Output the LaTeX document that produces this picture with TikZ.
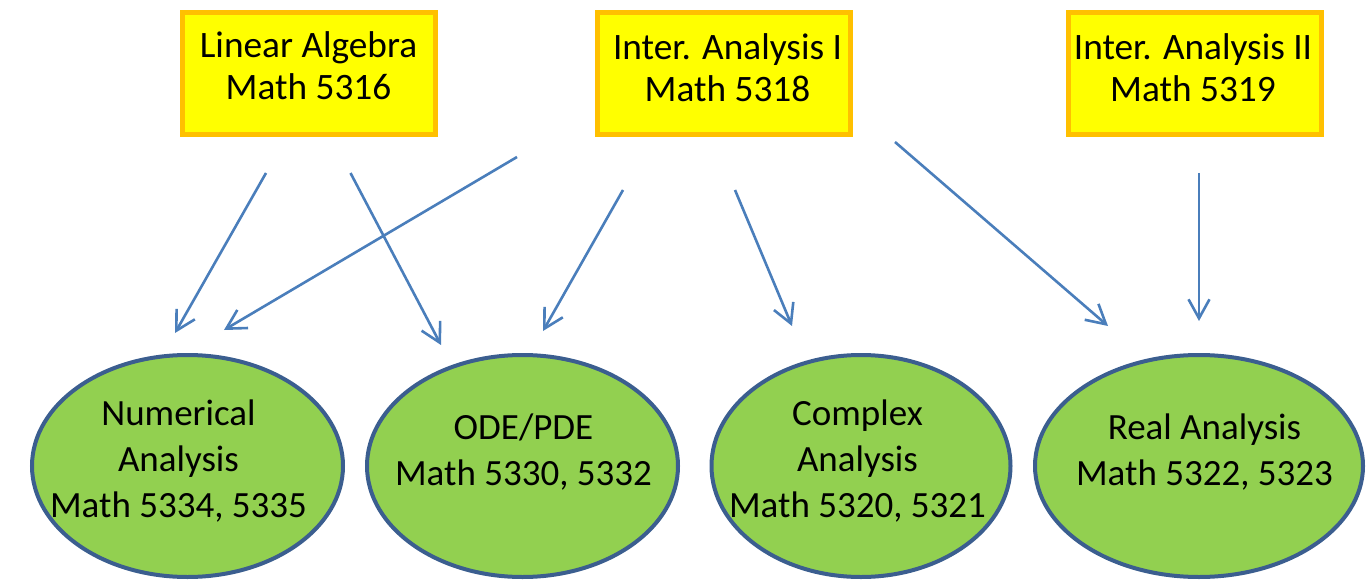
\documentclass[tikz,border=0pt]{standalone}
\usepackage{fontspec}
\setmainfont{Carlito}
\usetikzlibrary{arrows.meta,shapes.geometric}
\definecolor{boxfill}{HTML}{FFFF00}
\definecolor{boxline}{HTML}{FFC000}
\definecolor{ellfill}{HTML}{92D050}
\definecolor{ellline}{HTML}{3B5E8F}
\definecolor{arr}{HTML}{4A7EBB}
\begin{document}
\begin{tikzpicture}[x=1pt,y=-1pt,
  course/.style={draw=boxline, fill=boxfill, line width=5pt, rectangle,
    minimum width=253pt, minimum height=122pt, inner sep=0pt},
  topic/.style={draw=ellline, fill=ellfill, line width=4pt, ellipse, inner sep=0pt},
  lbl/.style={align=center, anchor=base, inner sep=0pt, font=\fontsize{37.3}{42}\selectfont},
  elbl/.style={align=center, anchor=base, inner sep=0pt, font=\fontsize{37}{46}\selectfont},
  prereq/.style={draw=arr, line width=2.6pt, -{Straight Barb[length=19pt,width=21pt]}}]
\useasboundingbox (0,0) rectangle (1370,580);
% prerequisite boxes
\node[course] (la) at (309,73.5) {};
\node[course] (ia1) at (723.5,73.5) {};
\node[course] (ia2) at (1195,73.5) {};
\node[lbl] (lat) at (308.5,100) {Linear Algebra\\Math 5316};
\node[lbl] (ia1t) at (727.5,102) {Inter. Analysis I\\Math 5318};
\node[lbl] (ia2t) at (1193,102) {Inter. Analysis II\\Math 5319};
% course ellipses
\node[topic, minimum width=311pt, minimum height=222pt] (na) at (187.5,466) {};
\node[topic, minimum width=311pt, minimum height=222pt] (ode) at (522.5,466) {};
\node[topic, minimum width=299pt, minimum height=222pt] (ca) at (861,466) {};
\node[topic, minimum width=328pt, minimum height=222pt] (ra) at (1199,466) {};
\node[elbl] (nat) at (178.5,517) {Numerical\\Analysis\\Math 5334, 5335};
\node[elbl] (odet) at (523.5,485) {ODE/PDE\\Math 5330, 5332};
\node[elbl] (cat) at (857.5,517) {Complex\\Analysis\\Math 5320, 5321};
\node[elbl] (rat) at (1204.5,485) {Real Analysis\\Math 5322, 5323};
% arrow end points
\coordinate (s1) at (266,173);  \coordinate (e1) at (175,333);
\coordinate (s2) at (350.5,173); \coordinate (e2) at (441,345);
\coordinate (s3) at (517,157);  \coordinate (e3) at (224,330);
\coordinate (s4) at (623,190);  \coordinate (e4) at (543,331);
\coordinate (s5) at (735,190);  \coordinate (e5) at (792,326);
\coordinate (s6) at (895,142);  \coordinate (e6) at (1108,326);
\coordinate (s7) at (1199,173); \coordinate (e7) at (1199,321);
\draw[prereq] (s1) -- (e1);
\draw[prereq] (s2) -- (e2);
\draw[prereq] (s3) -- (e3);
\draw[prereq] (s4) -- (e4);
\draw[prereq] (s5) -- (e5);
\draw[prereq] (s6) -- (e6);
\draw[prereq] (s7) -- (e7);
\end{tikzpicture}
\end{document}
